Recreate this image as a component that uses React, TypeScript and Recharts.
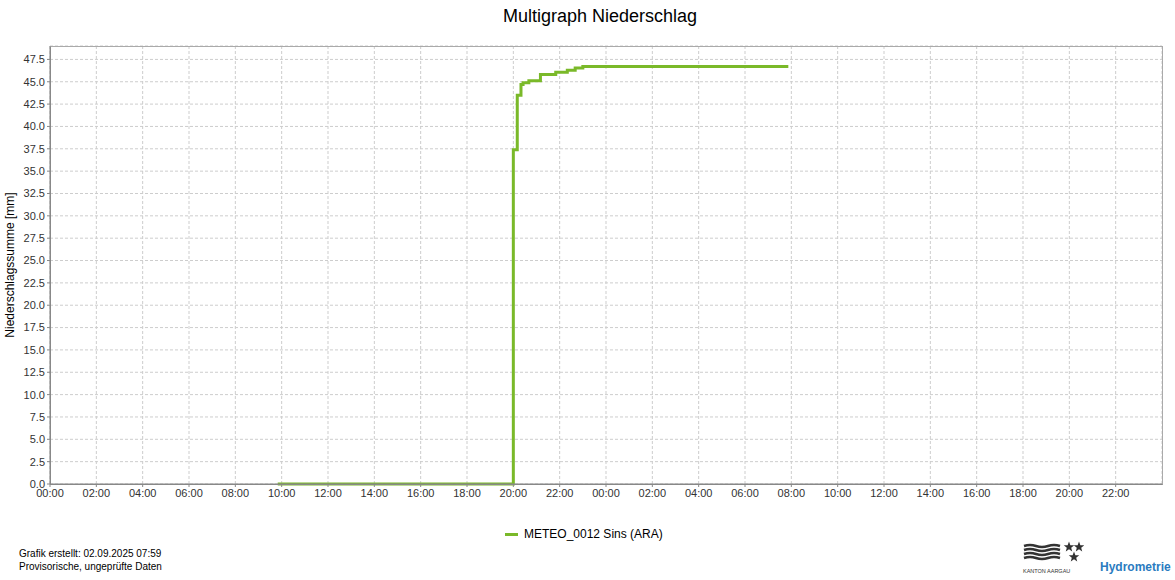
import { LineChart, Line, XAxis, YAxis, CartesianGrid } from 'recharts'

document.body.style.margin = '0'

// hours since 01.09. 00:00
const hours = [9.83, 20.0, 20.17, 20.33, 20.42, 20.67, 21.17, 21.83, 22.33, 22.67, 23.0, 31.87]
const rainSum = [0, 37.4, 43.5, 44.7, 44.9, 45.1, 45.8, 46.05, 46.3, 46.55, 46.7, 46.7]

const xTicks = Array.from({ length: 24 }, (_, i) => i * 2)
const yTicks = Array.from({ length: 20 }, (_, i) => i * 2.5)

const seriesName = 'METEO_0012 Sins (ARA)'
const green = '#7ab929'

const data = hours.map((h, i) => ({ h, v: rainSum[i] }))

const fmtHour = (h: number) => `${String(h % 24).padStart(2, '0')}:00`

const font = '"Liberation Sans", Arial, sans-serif'

const star = (cx: number, cy: number, r: number) => {
  const pts: string[] = []
  for (let i = 0; i < 10; i++) {
    const a = -Math.PI / 2 + (i * Math.PI) / 5
    const rr = i % 2 === 0 ? r : r * 0.42
    pts.push(`${(cx + rr * Math.cos(a)).toFixed(2)},${(cy + rr * Math.sin(a)).toFixed(2)}`)
  }
  return pts.join(' ')
}

export default function App() {
  return (
    <div style={{ position: 'relative', width: 1175, height: 580, fontFamily: font, background: '#fff' }}>
      <div style={{ position: 'absolute', top: 6, left: 0, width: 1200, textAlign: 'center', fontSize: 18, color: '#000' }}>
        Multigraph Niederschlag
      </div>
      <LineChart width={1175} height={580} data={data} margin={{ top: 46, right: 13, bottom: 66, left: 0 }}>
        <CartesianGrid stroke="#cdcdcd" strokeDasharray="3 2" />
        <XAxis
          dataKey="h"
          type="number"
          domain={[0, 48]}
          ticks={xTicks}
          tickFormatter={fmtHour}
          height={30}
          interval={0}
          stroke="#888"
          tickSize={3}
          tick={{ fontSize: 11, fill: '#333', fontFamily: font }}
        />
        <YAxis
          type="number"
          domain={[0, 49]}
          ticks={yTicks}
          tickFormatter={(v: number) => v.toFixed(1)}
          width={50}
          interval={0}
          stroke="#888"
          tickSize={3}
          tick={{ fontSize: 11, fill: '#333', fontFamily: font }}
          label={{ value: 'Niederschlagssumme [mm]', angle: -90, position: 'insideLeft', offset: 10, style: { fontSize: 12, fill: '#000', fontFamily: font, textAnchor: 'middle' } }}
        />
        <Line
          type="stepAfter"
          dataKey="v"
          name={seriesName}
          stroke={green}
          strokeWidth={3}
          dot={false}
          isAnimationActive={false}
        />
      </LineChart>
      <div style={{ position: 'absolute', left: 50, top: 46, width: 1111, height: 437, border: '1px solid #aaa', borderLeftColor: '#888', borderBottomColor: '#888', pointerEvents: 'none' }} />
      <div style={{ position: 'absolute', left: 505, top: 527, fontSize: 12, color: '#000', display: 'flex', alignItems: 'center' }}>
        <span style={{ display: 'inline-block', width: 13, height: 3, background: green, marginRight: 6 }} />
        {seriesName}
      </div>
      <div style={{ position: 'absolute', left: 19, top: 547, fontSize: 10, color: '#000', lineHeight: '13px' }}>
        <div>Grafik erstellt: 02.09.2025 07:59</div>
        <div>Provisorische, ungeprüfte Daten</div>
      </div>
      <svg style={{ position: 'absolute', left: 1022, top: 540 }} width={62} height={36}>
        {[0, 1, 2, 3].map((i) => (
          <path key={i} d={`M2 ${6 + i * 4} q6 -2 12 0 t12 0 t12 0`} stroke="#333" strokeWidth={2.5} fill="none" />
        ))}
        <polygon points={star(47, 7, 5.5)} fill="#333" />
        <polygon points={star(57, 7, 5.5)} fill="#333" />
        <polygon points={star(52, 17, 5.5)} fill="#333" />
        <text x={1} y={33} fontSize={5.5} fill="#333" fontFamily={font}>KANTON AARGAU</text>
      </svg>
      <div style={{ position: 'absolute', left: 1100, top: 560, fontSize: 12, fontWeight: 'bold', color: '#2a7bc0' }}>
        Hydrometrie
      </div>
    </div>
  )
}
